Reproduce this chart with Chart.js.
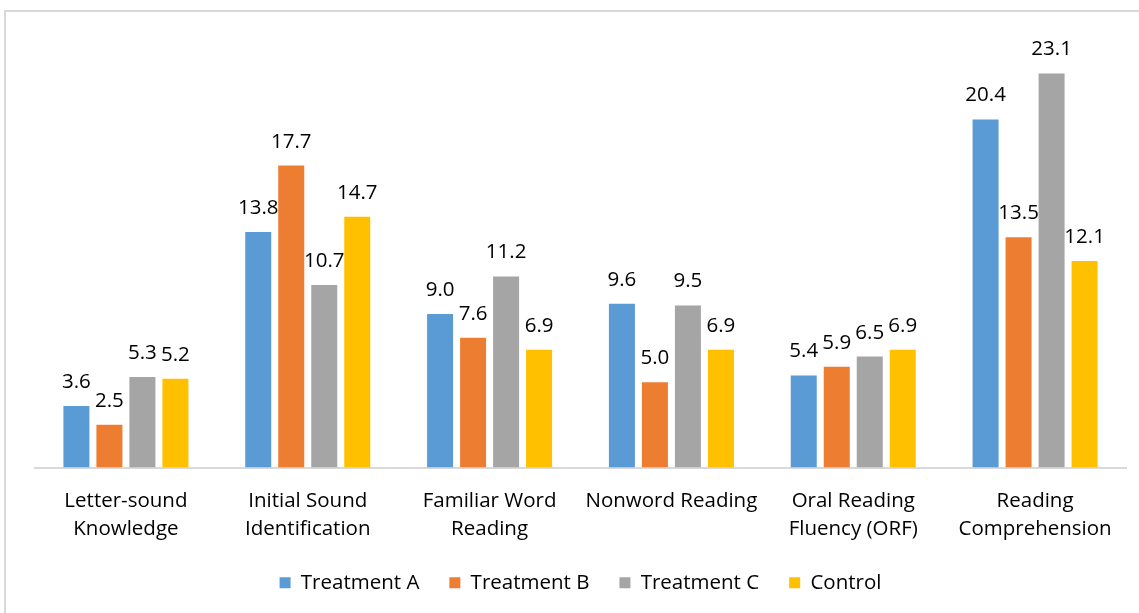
<!DOCTYPE html>
<html>
<head>
<meta charset="utf-8">
<script src="https://cdn.jsdelivr.net/npm/chart.js@4/dist/chart.umd.min.js"></script>
<style>
  html, body { margin: 0; padding: 0; background: #fff; overflow: hidden; }
  #frame { position: absolute; left: 4px; top: 10px; width: 1200px; height: 700px; border: 2px solid #d9d9d9; }
  #wrap { position: absolute; left: 0; top: 0; width: 1139px; height: 613px; }
</style>
</head>
<body>
<div id="frame"></div>
<div id="wrap"><canvas id="chart"></canvas></div>
<script>
  // Reading skill scores by group
  const categories = [
    ["Letter-sound", "Knowledge"],
    ["Initial Sound", "Identification"],
    ["Familiar Word", "Reading"],
    "Nonword Reading",
    ["Oral Reading", "Fluency (ORF)"],
    ["Reading", "Comprehension"],
  ];
  const treatmentA = [3.6, 13.8, 9.0, 9.6, 5.4, 20.4];
  const treatmentB = [2.5, 17.7, 7.6, 5.0, 5.9, 13.5];
  const treatmentC = [5.3, 10.7, 11.2, 9.5, 6.5, 23.1];
  const control = [5.2, 14.7, 6.9, 6.9, 6.9, 12.1];

  const FONT = "'Open Sans', sans-serif";
  const SIZE = 20.5;

  // draws the value above each bar (Excel "outside end" labels)
  const valueLabels = {
    id: "valueLabels",
    afterDatasetsDraw(chart) {
      const ctx = chart.ctx;
      ctx.save();
      ctx.font = SIZE + "px " + FONT;
      ctx.fillStyle = "#000";
      ctx.textAlign = "center";
      ctx.textBaseline = "alphabetic";
      chart.data.datasets.forEach((ds, i) => {
        chart.getDatasetMeta(i).data.forEach((bar, j) => {
          ctx.fillText(ds.data[j].toFixed(1), bar.x, bar.y - 18);
        });
      });
      ctx.restore();
    },
  };

  const bar = (label, data, color) => ({
    label,
    data,
    backgroundColor: color,
    borderWidth: 0,
    categoryPercentage: 0.726,
    barPercentage: 0.788,
  });

  new Chart(document.getElementById("chart"), {
    type: "bar",
    data: {
      labels: categories,
      datasets: [
        bar("Treatment A", treatmentA, "#5b9bd5"),
        bar("Treatment B", treatmentB, "#ed7d31"),
        bar("Treatment C", treatmentC, "#a5a5a5"),
        bar("Control", control, "#ffc000"),
      ],
    },
    options: {
      responsive: true,
      maintainAspectRatio: false,
      animation: false,
      layout: { padding: { left: 35, right: 13, top: 41, bottom: 10 } },
      plugins: {
        legend: {
          position: "bottom",
          labels: {
            font: { family: FONT, size: SIZE },
            color: "#000",
            boxWidth: 11,
            boxHeight: 11,
            padding: 30,
          },
        },
        tooltip: { enabled: false },
      },
      scales: {
        x: {
          grid: { display: false, drawTicks: false },
          border: { display: true, color: "#d9d9d9", width: 2 },
          ticks: {
            autoSkip: false,
            maxRotation: 0,
            padding: 20,
            color: "#000",
            font: { family: FONT, size: SIZE, lineHeight: "28px" },
          },
          afterFit(scale) { scale.height = 75; },
        },
        y: { display: false, min: 0, max: 25 },
      },
    },
    plugins: [valueLabels],
  });
</script>
</body>
</html>
